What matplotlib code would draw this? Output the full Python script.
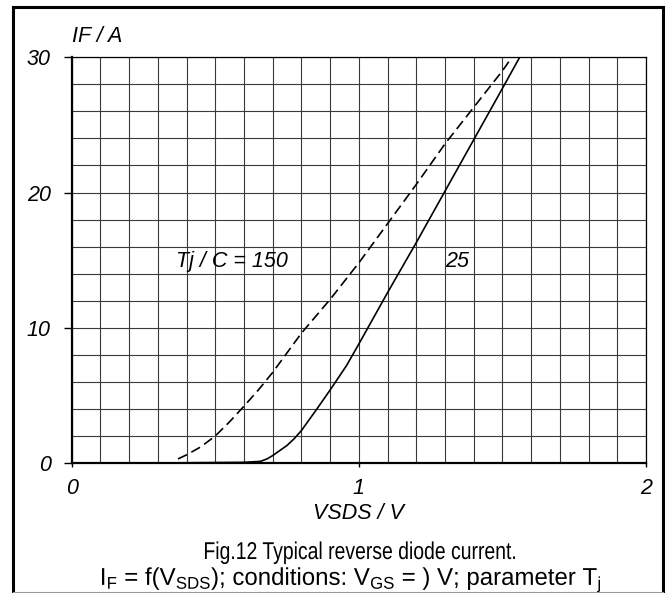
import matplotlib
matplotlib.use("Agg")
import matplotlib.pyplot as plt
from matplotlib.font_manager import FontProperties
from matplotlib.lines import Line2D
from matplotlib.patches import PathPatch
from matplotlib.textpath import TextPath
from matplotlib.ticker import MultipleLocator
from matplotlib.transforms import Affine2D

# reverse diode forward characteristic, read per temperature
v_25 = [0.0, 0.3, 0.6, 0.657, 0.68, 0.7, 0.72, 0.75, 0.775, 0.8, 0.854,
        0.9, 0.957, 1.0, 1.1, 1.2, 1.3, 1.4, 1.5, 1.56]
i_25 = [0.0, 0.0, 0.05, 0.12, 0.3, 0.55, 0.85, 1.3, 1.8, 2.4, 4.0,
        5.4, 7.2, 8.8, 12.6, 16.3, 20.1, 23.9, 27.7, 30.0]

v_150 = [0.37, 0.4, 0.45, 0.5, 0.55, 0.6, 0.65, 0.7, 0.8, 0.9, 1.0,
         1.1, 1.2, 1.3, 1.4, 1.5, 1.533]
i_150 = [0.3, 0.6, 1.2, 2.0, 3.05, 4.2, 5.4, 6.7, 9.6, 12.1, 14.8,
         17.7, 20.6, 23.6, 26.3, 29.0, 30.0]

x_ticks = [0, 1, 2]
y_ticks = [0, 10, 20, 30]

caption_1 = "Fig.12 Typical reverse diode current."
caption_2 = (r"$\mathregular{I_F}$ = f($\mathregular{V_{SDS}}$); conditions: "
             r"$\mathregular{V_{GS}}$ = ) V; parameter $\mathregular{T_j}$")

FONT = ["Liberation Sans", "DejaVu Sans"]
plt.rcParams["font.family"] = FONT
plt.rcParams["mathtext.fontset"] = "custom"
plt.rcParams["mathtext.rm"] = "Liberation Sans"

W, H = 667, 593
DPI = 100
fig = plt.figure(figsize=(W / DPI, H / DPI), dpi=DPI)
ax = fig.add_axes([71.7 / W, 1 - 463 / H, (646 - 71.7) / W, (463 - 57.3) / H])


def condensed_text(s, x0, x1, baseline, size):
    """Draw s in pixel coords, squeezed horizontally to span x0..x1."""
    tp = TextPath((0, 0), s, prop=FontProperties(family="Liberation Sans", size=size))
    bb = tp.get_extents()
    k = DPI / 72
    sx = (x1 - x0) / (bb.width * k)
    tr = Affine2D().translate(-bb.x0, 0).scale(sx * k, k).translate(x0, H - baseline)
    fig.add_artist(PathPatch(tp, transform=tr, facecolor="black", lw=0))


ax.plot(v_150, i_150, color="black", lw=1.2, dashes=(6, 3))
ax.plot(v_25, i_25, color="black", lw=1.2)

ax.set_xlim(0, 2)
ax.set_ylim(0, 30)
ax.xaxis.set_minor_locator(MultipleLocator(0.1))
ax.yaxis.set_minor_locator(MultipleLocator(2))
ax.grid(which="both", color="#3a3a3a", lw=0.8)
ax.set_axisbelow(True)

ax.set_xticks(x_ticks)
ax.set_yticks(y_ticks)
ax.set_xticklabels([str(t) for t in x_ticks], fontsize=15.5, style="italic")
ax.set_yticklabels([str(t) for t in y_ticks], fontsize=15.5, style="italic")
ax.tick_params(axis="x", which="major", length=3, width=1, pad=8)
ax.tick_params(axis="y", which="major", length=6, width=1, pad=9)
ax.tick_params(which="minor", length=0)

for side in ("left", "bottom"):
    ax.spines[side].set_linewidth(1.6)
for side in ("top", "right"):
    ax.spines[side].set_linewidth(0.9)

ax.text(0, 1.025, "IF / A", transform=ax.transAxes, fontsize=15.5,
        style="italic", ha="left", va="bottom")
ax.set_xlabel("VSDS / V", fontsize=15.5, style="italic", labelpad=3)

ax.text(0.363, 14.9, "Tj / C = 150", fontsize=15.5, style="italic",
        ha="left", va="center")
ax.text(1.30, 14.9, "25", fontsize=15.5, style="italic",
        ha="left", va="center")

condensed_text(caption_1, 205, 515, 559, 17.5)
condensed_text(caption_2, 102, 600, 585, 17.5)

# outer frame
frame = dict(color="black", lw=2.2, transform=fig.transFigure)
fig.add_artist(Line2D([12.7 / W, 12.7 / W], [1 - 591.5 / H, 1 - 6.7 / H], **frame))
fig.add_artist(Line2D([662.7 / W, 662.7 / W], [1 - 591.5 / H, 1 - 6.7 / H], **frame))
fig.add_artist(Line2D([12.7 / W, 662.7 / W], [1 - 6.7 / H, 1 - 6.7 / H], **frame))
fig.add_artist(Line2D([12.7 / W, 662.7 / W], [1 - 591.5 / H, 1 - 591.5 / H],
                      color="#999999", lw=0.8, transform=fig.transFigure))

fig.savefig("out.png", dpi=DPI, facecolor="white")
